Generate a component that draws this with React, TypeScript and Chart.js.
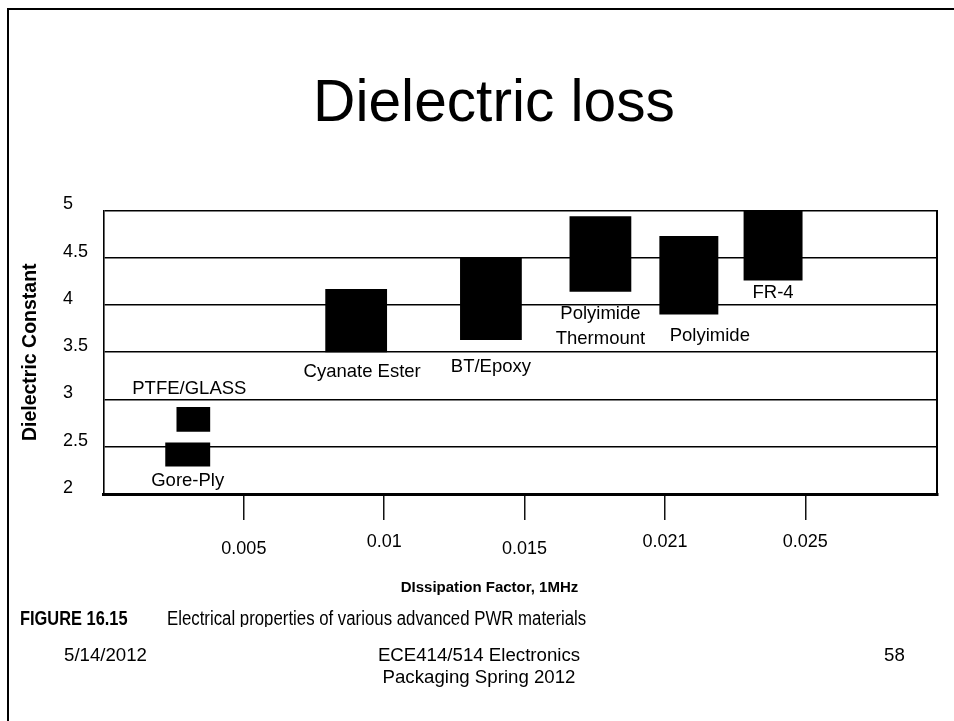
import React, { useEffect, useRef } from 'react';
import { Chart, registerables } from 'chart.js';

Chart.register(...registerables);

// Materials and their dissipation-factor / dielectric-constant ranges
const materials = ['PTFE/GLASS', 'Gore-Ply', 'Cyanate Ester', 'BT/Epoxy', 'Polyimide\nThermount', 'Polyimide', 'FR-4'];
const dfLow = [0.0026, 0.0022, 0.0079, 0.0127, 0.0166, 0.0198, 0.0228];
const dfHigh = [0.0038, 0.0038, 0.0101, 0.0149, 0.0188, 0.0219, 0.0249];
const dkLow = [2.66, 2.29, 3.5, 3.63, 4.14, 3.9, 4.26];
const dkHigh = [2.92, 2.545, 4.17, 4.5, 4.94, 4.73, 5.0];

const xTickValues = [0.005, 0.01, 0.015, 0.02, 0.025];
const xTickLabels = ['0.005', '0.01', '0.015', '0.021', '0.025'];
const xTickDropped = [true, false, true, false, false];
const yTickValues = [2, 2.5, 3, 3.5, 4, 4.5, 5];
const yTickLabels = ['2', '2.5', '3', '3.5', '4', '4.5', '5'];

// Where each material name sits relative to its box (pixels)
const labelPlacement = [
  { side: 'above', dx: -4, gap: 18 },
  { side: 'below', dx: 0, gap: 14 },
  { side: 'below', dx: 6, gap: 20 },
  { side: 'below', dx: 0, gap: 27 },
  { side: 'below', dx: 0, gap: 22 },
  { side: 'below', dx: 21, gap: 21 },
  { side: 'below', dx: 0, gap: 12 },
];

const FIG_FONT = '"Liberation Sans", Arial, Helvetica, sans-serif';

const materialLabels = {
  id: 'materialLabels',
  afterDatasetsDraw(chart: any) {
    const { ctx, scales } = chart;
    const xs = scales.x;
    const ys = scales.y;
    ctx.save();
    ctx.fillStyle = '#000';
    ctx.font = `18.5px ${FIG_FONT}`;
    ctx.textAlign = 'center';
    ctx.textBaseline = 'middle';
    materials.forEach((name, i) => {
      const p = labelPlacement[i];
      const cx = (xs.getPixelForValue(dfLow[i]) + xs.getPixelForValue(dfHigh[i])) / 2 + p.dx;
      const lines = name.split('\n');
      const y0 = p.side === 'above'
        ? ys.getPixelForValue(dkHigh[i]) - p.gap
        : ys.getPixelForValue(dkLow[i]) + p.gap;
      lines.forEach((ln, j) => ctx.fillText(ln, cx, y0 + j * 25));
    });
    ctx.restore();
  },
};

function DielectricChart() {
  const ref = useRef<HTMLCanvasElement | null>(null);
  useEffect(() => {
    if (!ref.current) return;
    const datasets = materials.map((name, i) => ({
      label: name.replace('\n', ' '),
      data: [
        { x: dfLow[i], y: dkLow[i] },
        { x: dfHigh[i], y: dkLow[i] },
        { x: dfHigh[i], y: dkHigh[i] },
        { x: dfLow[i], y: dkHigh[i] },
      ],
      backgroundColor: '#000',
      borderColor: 'rgba(0,0,0,0)',
      borderWidth: 1,
      pointRadius: 0,
      fill: 'shape',
      tension: 0,
    }));
    const chart = new Chart(ref.current, {
      type: 'line',
      data: { datasets },
      plugins: [materialLabels],
      options: {
        animation: false,
        responsive: false,
        events: [],
        layout: { padding: { left: 63, top: 210.5, right: 16.7, bottom: 117 } },
        plugins: {
          legend: { display: false },
          tooltip: { enabled: false },
          title: { display: false },
        },
        scales: {
          x: {
            type: 'linear',
            position: 'bottom',
            min: 0,
            max: 0.0297,
            afterBuildTicks: (s: any) => { s.ticks = xTickValues.map((v) => ({ value: v })); },
            afterFit: (s: any) => { s.height = 110; },
            grid: { drawOnChartArea: false, drawTicks: true, tickLength: 26, color: '#111', lineWidth: 1.5 },
            border: { display: true, color: '#000', width: 3 },
            ticks: {
              color: '#000',
              font: { family: FIG_FONT, size: 18, lineHeight: '7.5px' },
              padding: 18,
              maxRotation: 0,
              autoSkip: false,
              callback: (_v: any, i: number) => (xTickDropped[i] ? ['', xTickLabels[i]] : xTickLabels[i]),
            },
          },
          y: {
            type: 'linear',
            position: 'left',
            min: 2,
            max: 5,
            afterBuildTicks: (s: any) => { s.ticks = yTickValues.map((v) => ({ value: v })); },
            afterFit: (s: any) => { s.width = 40.5; },
            grid: { color: '#000', lineWidth: 1.6, drawTicks: false },
            border: { display: true, color: '#000', width: 1.6 },
            ticks: {
              color: '#000',
              crossAlign: 'far',
              labelOffset: -6,
              padding: 0,
              font: { family: FIG_FONT, size: 18 },
              callback: (_v: any, i: number) => yTickLabels[i],
            },
            title: {
              display: true,
              text: 'Dielectric Constant',
              color: '#000',
              font: { family: FIG_FONT, size: 19.5, weight: 'bold' },
              padding: { top: -44.2, bottom: 0 },
            },
          },
          yRight: {
            type: 'linear',
            position: 'right',
            min: 2,
            max: 5,
            afterFit: (s: any) => { s.width = 0; },
            ticks: { display: false },
            grid: { display: false, drawTicks: false },
            border: { display: true, color: '#000', width: 2 },
          },
        },
      } as any,
    });
    return () => chart.destroy();
  }, []);
  return <canvas ref={ref} width={954} height={721} style={{ position: 'absolute', left: 0, top: 0, width: 954, height: 721 }} />;
}

const SLIDE_FONT = '"Liberation Sans", Arial, sans-serif';

export default function App() {
  const abs = (extra: React.CSSProperties): React.CSSProperties => ({
    position: 'absolute',
    whiteSpace: 'nowrap',
    lineHeight: 1,
    color: '#000',
    ...extra,
  });
  return (
    <div style={{ position: 'fixed', left: 0, top: 0, width: 954, height: 721, background: '#fff', overflow: 'hidden', fontFamily: SLIDE_FONT }}>
      <div style={{ position: 'absolute', left: 7, top: 8, width: 1000, height: 800, border: '2px solid #000', boxSizing: 'border-box' }} />
      <div style={abs({ left: 494, top: 72, transform: 'translateX(-50%)', fontSize: 58.67 })}>Dielectric loss</div>
      <DielectricChart />
      <div style={abs({ left: 489.5, top: 578.7, transform: 'translateX(-50%)', fontSize: 15, fontWeight: 'bold', fontFamily: FIG_FONT })}>
        DIssipation Factor, 1MHz
      </div>
      <div style={abs({ left: 20, top: 608, height: 19, overflow: 'hidden', fontFamily: FIG_FONT })}>
        <span style={{ display: 'inline-block', fontSize: 20, fontWeight: 'bold', transform: 'scaleX(0.82)', transformOrigin: 'left', width: 134 }}>FIGURE 16.15</span>
        <span style={{ display: 'inline-block', fontSize: 20, transform: 'scaleX(0.84)', transformOrigin: 'left', marginLeft: 13 }}>Electrical properties of various advanced PWR materials</span>
      </div>
      <div style={abs({ left: 64, top: 646, fontSize: 18.67 })}>5/14/2012</div>
      <div style={abs({ left: 479, top: 644, transform: 'translateX(-50%)', fontSize: 18.67, lineHeight: '22px', textAlign: 'center' })}>
        ECE414/514 Electronics<br />Packaging Spring 2012
      </div>
      <div style={abs({ left: 884, top: 646, fontSize: 18.67 })}>58</div>
    </div>
  );
}
